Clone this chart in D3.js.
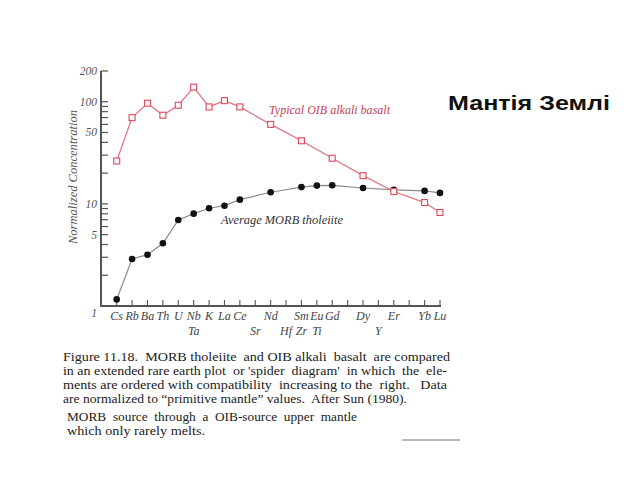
<!DOCTYPE html>
<html>
<head>
<meta charset="utf-8">
<script src="https://cdn.jsdelivr.net/npm/d3@7"></script>
<style>
  html, body { margin: 0; padding: 0; background: #fff; }
  svg { display: block; }
</style>
</head>
<body>
<svg id="chart" width="640" height="480"></svg>
<script>
// ---- data ----
const categories = ["Cs","Rb","Ba","Th","U","Nb","K","La","Ce","Sr","Nd","Hf","Sm","Eu","Gd","Tb","Dy","Y","Er","Tm","Yb","Lu"];
const topLabels    = ["Cs","Rb","Ba","Th","U","Nb","K","La","Ce","","Nd","","Sm","Eu","Gd","","Dy","","Er","","Yb","Lu"];
const bottomLabels = ["","","","","","Ta","","","","Sr","","Hf","Zr","Ti","","","","Y","","","",""];
const oibValues  = [26.3,69.9,96.7,73.8,92.4,139,89,102.5,89,null,60,null,41.5,null,28,null,18.9,null,13.2,null,10.3,8.24];
const morbValues = [1.16,2.89,3.18,4.11,6.96,8.02,9.06,9.6,11.0,null,13.0,null,14.6,15.1,15.2,null,14.3,null,13.7,null,13.4,12.8];
const yTickLabels = [1,5,10,50,100,200];
const yMinorTicks = [1,2,3,4,5,6,7,8,9,10,20,30,40,50,60,70,80,90,100,200];
const oibLabel = "Typical OIB alkali basalt";
const morbLabel = "Average MORB tholeiite";
const yTitle = "Normalized Concentration";
const title = "Мантія Землі";
const captionLines = [
  "Figure 11.18.  MORB tholeiite  and OIB alkali  basalt  are compared",
  "in an extended rare earth plot  or 'spider  diagram'  in which  the  ele-",
  "ments are ordered with compatibility  increasing to the  right.   Data",
  "are normalized to \u201cprimitive mantle\u201d values.  After Sun (1980).",
  "MORB  source  through  a  OIB-source  upper  mantle",
  "which only rarely melts."
];

// ---- layout ----
const svg = d3.select("#chart");
const axisX = 101, axisY = 306;
const x = d3.scalePoint().domain(categories).range([116.7, 440]);
const y = d3.scaleLog().domain([1, 200]).range([306, 71]);
const serif = "'Liberation Serif', 'DejaVu Serif', serif";
const textGray = "#444";

// y axis line
svg.append("line").attr("x1", axisX).attr("x2", axisX).attr("y1", y(200)).attr("y2", axisY + 1)
  .attr("stroke", "#555").attr("stroke-width", 2);
// y ticks (pointing right)
svg.append("g").selectAll("line").data(yMinorTicks).join("line")
  .attr("x1", axisX).attr("x2", axisX + 7)
  .attr("y1", d => y(d)).attr("y2", d => y(d))
  .attr("stroke", "#555").attr("stroke-width", 1.2);
// y tick labels
svg.append("g").selectAll("text").data(yTickLabels).join("text")
  .attr("x", 97).attr("y", d => y(d) + (d === 1 ? 11 : 4))
  .attr("text-anchor", "end")
  .attr("font-family", serif).attr("font-style", "italic").attr("font-size", 11.5)
  .attr("fill", "#555")
  .text(d => d);
// y title
svg.append("text")
  .attr("transform", `translate(77,177) rotate(-90)`)
  .attr("text-anchor", "middle")
  .attr("font-family", serif).attr("font-style", "italic").attr("font-size", 13)
  .attr("fill", "#555")
  .attr("textLength", 134).attr("lengthAdjust", "spacingAndGlyphs")
  .text(yTitle);

// x axis line
svg.append("line").attr("x1", axisX).attr("x2", 441).attr("y1", axisY).attr("y2", axisY)
  .attr("stroke", "#555").attr("stroke-width", 2);
// x ticks (pointing up)
svg.append("g").selectAll("line").data(categories).join("line")
  .attr("x1", d => x(d)).attr("x2", d => x(d))
  .attr("y1", axisY).attr("y2", axisY - 6)
  .attr("stroke", "#555").attr("stroke-width", 1.1);
// x labels
svg.append("g").selectAll("text").data(categories).join("text")
  .attr("x", d => x(d)).attr("y", 320)
  .attr("text-anchor", "middle")
  .attr("font-family", serif).attr("font-style", "italic").attr("font-size", 12)
  .attr("fill", textGray)
  .text((d, i) => topLabels[i]);
svg.append("g").selectAll("text").data(categories).join("text")
  .attr("x", d => x(d)).attr("y", 334.5)
  .attr("text-anchor", "middle")
  .attr("font-family", serif).attr("font-style", "italic").attr("font-size", 12)
  .attr("fill", textGray)
  .text((d, i) => bottomLabels[i]);

// series
const oibPts = categories.map((c, i) => ({c, v: oibValues[i]})).filter(d => d.v != null);
const morbPts = categories.map((c, i) => ({c, v: morbValues[i]})).filter(d => d.v != null);
const line = d3.line().x(d => x(d.c)).y(d => y(d.v));

svg.append("path").datum(morbPts).attr("d", line)
  .attr("fill", "none").attr("stroke", "#8a8a8a").attr("stroke-width", 1.2);
svg.append("path").datum(oibPts).attr("d", line)
  .attr("fill", "none").attr("stroke", "#e4707e").attr("stroke-width", 1.2);

svg.append("g").selectAll("circle").data(morbPts).join("circle")
  .attr("cx", d => x(d.c)).attr("cy", d => y(d.v)).attr("r", 3.3)
  .attr("fill", "#111");
svg.append("g").selectAll("rect").data(oibPts).join("rect")
  .attr("x", d => x(d.c) - 3).attr("y", d => y(d.v) - 3)
  .attr("width", 6).attr("height", 6)
  .attr("fill", "#fff3f4").attr("stroke", "#d94c60").attr("stroke-width", 1.1);

// series labels
svg.append("text").attr("x", 269).attr("y", 114)
  .attr("font-family", serif).attr("font-style", "italic").attr("font-size", 13)
  .attr("fill", "#c8405a").attr("textLength", 121).attr("lengthAdjust", "spacingAndGlyphs")
  .text(oibLabel);
svg.append("text").attr("x", 221).attr("y", 224)
  .attr("font-family", serif).attr("font-style", "italic").attr("font-size", 13)
  .attr("fill", "#333").attr("textLength", 122).attr("lengthAdjust", "spacingAndGlyphs")
  .text(morbLabel);

// title
svg.append("text").attr("x", 448).attr("y", 110)
  .attr("font-family", "'Liberation Sans', Arial, sans-serif").attr("font-weight", "bold")
  .attr("font-size", 21).attr("fill", "#111")
  .attr("textLength", 162).attr("lengthAdjust", "spacingAndGlyphs")
  .text(title);

// caption
const capX = [63, 63, 63, 63, 67, 67];
const capY = [361, 375, 389, 403, 421, 435];
const capW = [387, 384, 384, 344, 290, 138];
svg.append("g").selectAll("text").data(captionLines).join("text")
  .attr("x", (d, i) => capX[i]).attr("y", (d, i) => capY[i])
  .attr("font-family", serif).attr("font-size", 13.5)
  .attr("fill", "#222")
  .attr("textLength", (d, i) => capW[i]).attr("lengthAdjust", "spacingAndGlyphs")
  .attr("xml:space", "preserve")
  .text(d => d);

// short rule at bottom right
svg.append("line").attr("x1", 402).attr("x2", 460).attr("y1", 440).attr("y2", 440)
  .attr("stroke", "#777").attr("stroke-width", 1);
</script>
</body>
</html>
